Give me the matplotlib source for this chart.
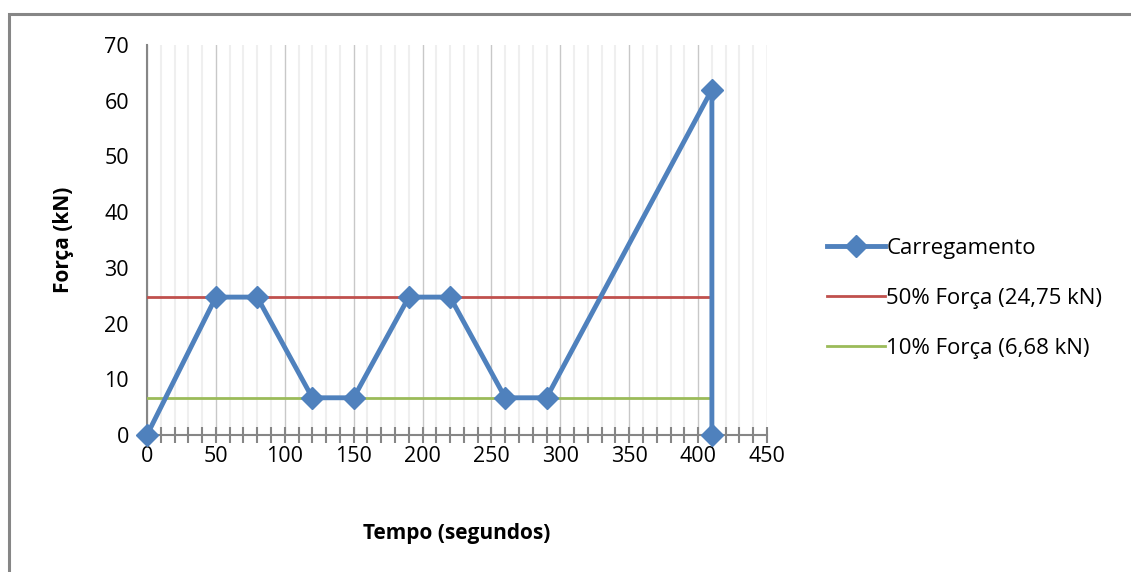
import matplotlib.pyplot as plt
from matplotlib.patches import Rectangle
from matplotlib.ticker import MultipleLocator

plt.rcParams["font.family"] = ["Open Sans", "DejaVu Sans"]

# dados do ensaio
tempo = [0, 50, 80, 120, 150, 190, 220, 260, 290, 410, 410]
carga = [0, 24.75, 24.75, 6.68, 6.68, 24.75, 24.75, 6.68, 6.68, 62, 0]
limite_x = [0, 410]
forca_50 = [24.75, 24.75]
forca_10 = [6.68, 6.68]

W, H = 1131, 572
fig = plt.figure(figsize=(W / 100, H / 100), dpi=100)
ax = fig.add_axes([147 / W, 1 - 435 / H, 620 / W, 390 / H])

# moldura externa
fig.patches.append(Rectangle((9 / W, -0.05), 1.2, 1 - 14 / H + 0.05, transform=fig.transFigure,
                             fill=False, edgecolor="#868686", linewidth=2.2, zorder=0))

ax.plot(limite_x, forca_50, color="#c0504d", lw=2, label="50% Força (24,75 kN)", zorder=3)
ax.plot(limite_x, forca_10, color="#9bbb59", lw=2, label="10% Força (6,68 kN)", zorder=3)
ax.plot(tempo, carga, color="#4f81bd", lw=3.5, marker="D", markersize=11,
        label="Carregamento", zorder=4, clip_on=False)

ax.set_xlim(0, 450)
ax.set_ylim(0, 70)
ax.xaxis.set_major_locator(MultipleLocator(50))
ax.xaxis.set_minor_locator(MultipleLocator(10))
ax.yaxis.set_major_locator(MultipleLocator(10))
ax.grid(axis="x", which="major", color="#c8c8c8", lw=1)
ax.grid(axis="x", which="minor", color="#efefef", lw=1.5)
ax.set_axisbelow(True)

for s in ("top", "right"):
    ax.spines[s].set_visible(False)
ax.spines["left"].set_color("#868686")
ax.spines["left"].set_linewidth(1.5)
ax.spines["bottom"].set_color("#868686")
ax.spines["bottom"].set_linewidth(1.5)
ax.tick_params(axis="x", which="both", direction="inout", length=12, width=1.5,
               color="#868686", labelsize=15.5, pad=2)
ax.tick_params(axis="y", length=0, labelsize=15.5, pad=13)

ax.set_xlabel("Tempo (segundos)", fontsize=15, fontweight="bold", labelpad=40)
ax.set_ylabel("Força (kN)", fontsize=15, fontweight="bold", labelpad=22)

h, l = ax.get_legend_handles_labels()
order = [2, 0, 1]
ax.legend([h[i] for i in order], [l[i] for i in order], loc="center left",
          bbox_to_anchor=(1.065, 0.35), frameon=False, fontsize=16, handlelength=2.6,
          handletextpad=0.05, labelspacing=1.3)

fig.savefig("out.png", dpi=100)
